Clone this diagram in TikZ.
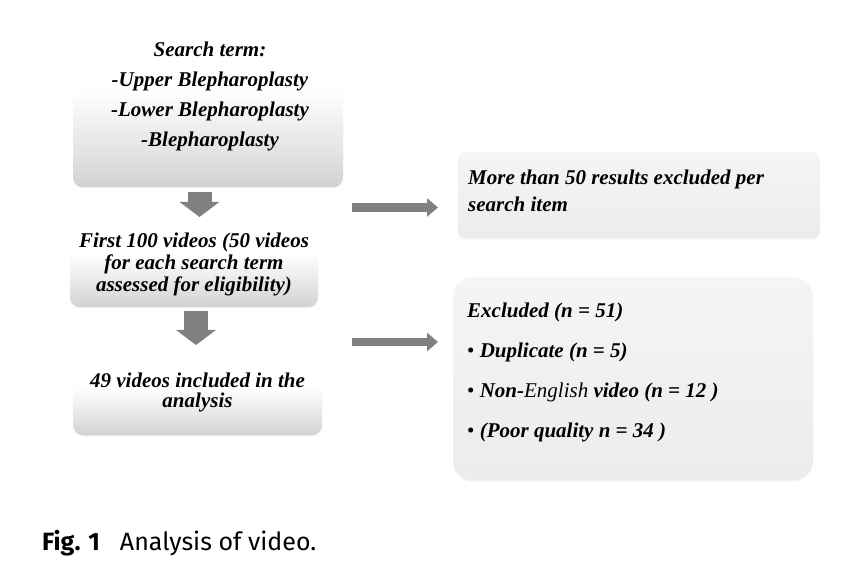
\documentclass[tikz,border=0pt]{standalone}
\usepackage{fontspec}
\setmainfont{Liberation Serif}
\newfontfamily\capfont{Fira Sans}
\usepackage{xcolor}
\definecolor{arrowgray}{RGB}{128,128,128}
\usetikzlibrary{positioning,arrows.meta,shadows}
\pgfdeclareverticalshading{fadebox}{100bp}{color(0bp)=(gray!36); color(25bp)=(gray!36); color(36bp)=(gray!22); color(56bp)=(white); color(100bp)=(white)}

\begin{document}
\begin{tikzpicture}[
      x=1pt,y=1pt,
      stepbox/.style={rounded corners=10pt,shading=fadebox,inner sep=0pt,
        drop shadow={opacity=0.12,shadow xshift=0pt,shadow yshift=-1.5pt}},
      sidebox/.style={rounded corners=#1,top color=gray!8,bottom color=gray!15,inner sep=0pt,
        drop shadow={opacity=0.10,shadow xshift=0pt,shadow yshift=-1.5pt}},
      txt/.style={font=\fontsize{21}{#1}\selectfont\bfseries\itshape,inner sep=0pt},
      downarrow/.style={draw=arrowgray,line width=24pt,-{Triangle[length=15pt,width=39pt]}},
      sidearrow/.style={draw=arrowgray,line width=8.5pt,-{Triangle[length=11pt,width=18pt]}}
    ]
    \useasboundingbox (0,0) rectangle (861,581);
    % left column
    \node[stepbox,minimum width=270pt,minimum height=157pt] (term) at (208,472.5) {};
    \node[stepbox,minimum width=248pt,minimum height=85pt] (first) at (194,316.5) {};
    \node[stepbox,minimum width=249pt,minimum height=77pt] (incl) at (197.5,184.5) {};
    \node[txt=30,align=center,anchor=base] (termtxt) at (210,434)
    {Search term:\\-Upper Blepharoplasty\\-Lower Blepharoplasty\\-Blepharoplasty};
    \node[txt=22,align=center,anchor=base] (firsttxt) at (194,289)
    {First 100 videos (50 videos\\for each search term\\assessed for eligibility)};
    \node[txt=21,align=center,anchor=base] (incltxt) at (197.5,173)
    {49 videos included in the\\analysis};
    % right column
    \node[sidebox=8pt,minimum width=362pt,minimum height=86pt] (more) at (639,386) {};
    \node[sidebox=20pt,minimum width=360pt,minimum height=203pt] (excl) at (633,202.5) {};
    \node[txt=27,align=left,anchor=base west] (moretxt) at (468,369)
    {More than 50 results excluded per\\search item};
    \node[txt=40,align=left,anchor=base west] (excltxt) at (467,144)
    {Excluded (n = 51)\\{\upshape\mdseries•} Duplicate (n = 5)\\{\upshape\mdseries•} Non-{\mdseries English} video (n = 12 )\\{\upshape\mdseries•} (Poor quality n = 34 )};
    % arrows
    \coordinate (d1a) at (199.5,389);
    \coordinate (d1b) at (199.5,364);
    \coordinate (d2a) at (196,270);
    \coordinate (d2b) at (196,236);
    \coordinate (r1a) at (352,373.5);
    \coordinate (r1b) at (438,373.5);
    \coordinate (r2a) at (352,239);
    \coordinate (r2b) at (438,239);
    \draw[downarrow] (d1a) -- (d1b);
    \draw[downarrow] (d2a) -- (d2b);
    \draw[sidearrow] (r1a) -- (r1b);
    \draw[sidearrow] (r2a) -- (r2b);
    % caption
    \node[anchor=base west,inner sep=0pt,font=\capfont\fontsize{25}{28}\selectfont] (cap) at (42,31)
    {\textbf{Fig. 1}\hspace{20pt}Analysis of video.};
  \end{tikzpicture}
\end{document}
